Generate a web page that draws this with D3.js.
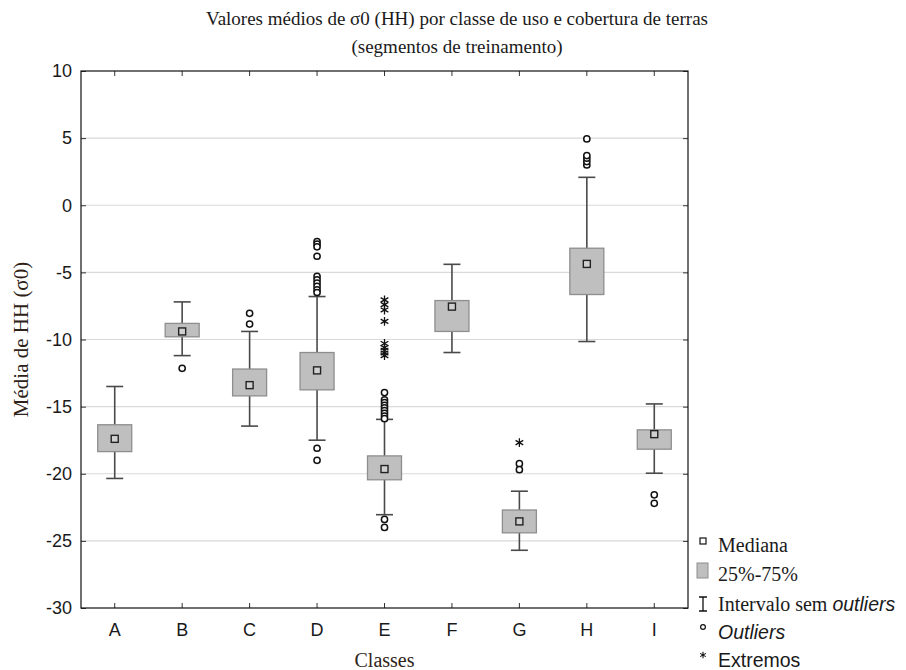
<!DOCTYPE html>
<html>
<head>
<meta charset="utf-8">
<script src="https://cdn.jsdelivr.net/npm/d3@7"></script>
<style>
  html, body { margin: 0; padding: 0; background: #fff; }
  svg { display: block; }
</style>
</head>
<body>
<script>
// ---- Data ----
const categories = ["A", "B", "C", "D", "E", "F", "G", "H", "I"];
const medians    = [-17.4, -9.4, -13.4, -12.3, -19.65, -7.55, -23.55, -4.37, -17.05];
const q1s        = [-18.35, -9.8, -14.2, -13.75, -20.45, -9.4, -24.4, -6.65, -18.17];
const q3s        = [-16.35, -8.8, -12.2, -10.97, -18.67, -7.1, -22.7, -3.2, -16.73];
const whiskLow   = [-20.35, -11.2, -16.45, -17.5, -23.05, -10.97, -25.7, -10.15, -19.96];
const whiskHigh  = [-13.5, -7.2, -9.4, -6.8, -15.95, -4.4, -21.3, 2.08, -14.8];
const outliers   = [
  [],
  [-12.15],
  [-8.05, -8.85],
  [-2.7, -2.9, -3.1, -3.8, -5.3, -5.55, -5.8, -6.05, -6.3, -6.5, -18.1, -19.0],
  [-13.95, -14.5, -14.7, -14.9, -15.1, -15.3, -15.5, -15.7, -15.9, -23.4, -24.0],
  [],
  [-19.25, -19.7],
  [4.94, 3.0, 3.25, 3.5, 3.7],
  [-21.57, -22.2]
];
const extremes   = [
  [], [], [], [],
  [-7.05, -7.4, -7.8, -8.65, -10.3, -10.6, -10.8, -11.0, -11.2],
  [],
  [-17.68],
  [], []
];
const yTicks = [10, 5, 0, -5, -10, -15, -20, -25, -30];
const titleLines = ["Valores médios de σ0 (HH) por classe de uso e cobertura de terras", "(segmentos de treinamento)"];
const yLabel = "Média de HH (σ0)";
const xLabel = "Classes";

// ---- Layout ----
const W = 906, H = 670;
const m = { left: 81, right: 688, top: 71, bottom: 608 };

const svg = d3.select("body").append("svg").attr("width", W).attr("height", H);

const x = d3.scaleBand().domain(categories).range([m.left, m.right]).paddingInner(0).paddingOuter(0);
const y = d3.scaleLinear().domain([-30, 10]).range([m.bottom, m.top]);

const boxW = 34, capW = 17;
const textCol = "#1a1a1a";

// grid
svg.append("g").selectAll("line").data(yTicks.filter(t => t > -30 && t < 10)).join("line")
  .attr("x1", m.left).attr("x2", m.right)
  .attr("y1", d => y(d)).attr("y2", d => y(d))
  .attr("stroke", "#d9d9d9").attr("stroke-width", 1.2);

// axes (ticks inward)
const axL = d3.axisLeft(y).tickValues(yTicks).tickSizeInner(-5).tickSizeOuter(0).tickPadding(9).tickFormat(d => String(d));
const gL = svg.append("g").attr("transform", `translate(${m.left},0)`).call(axL);
gL.select(".domain").remove();
gL.selectAll("text").attr("font-family", "Liberation Sans, Arial, sans-serif").attr("font-size", 18).attr("fill", textCol).attr("x", -9);
gL.selectAll("line").attr("stroke", "#333");

const axR = d3.axisRight(y).tickValues(yTicks).tickSizeInner(-5).tickSizeOuter(0).tickFormat("");
const gR = svg.append("g").attr("transform", `translate(${m.right},0)`).call(axR);
gR.select(".domain").remove();
gR.selectAll("line").attr("stroke", "#333");

const axB = d3.axisBottom(x).tickSizeInner(-5).tickSizeOuter(0).tickPadding(14);
const gB = svg.append("g").attr("transform", `translate(0,${m.bottom})`).call(axB);
gB.select(".domain").remove();
gB.selectAll("text").attr("font-family", "Liberation Sans, Arial, sans-serif").attr("font-size", 18).attr("fill", textCol).attr("y", 15);
gB.selectAll("line").attr("stroke", "#333");

const axT = d3.axisTop(x).tickSizeInner(-5).tickSizeOuter(0).tickFormat("");
const gT = svg.append("g").attr("transform", `translate(0,${m.top})`).call(axT);
gT.select(".domain").remove();
gT.selectAll("line").attr("stroke", "#333");

// frame
svg.append("rect").attr("x", m.left).attr("y", m.top)
  .attr("width", m.right - m.left).attr("height", m.bottom - m.top)
  .attr("fill", "none").attr("stroke", "#111").attr("stroke-width", 1.2);

// boxes
const rows = categories.map((c, i) => ({
  c, med: medians[i], q1: q1s[i], q3: q3s[i], lo: whiskLow[i], hi: whiskHigh[i],
  out: outliers[i], ext: extremes[i]
}));
const cx = d => x(d.c) + x.bandwidth() / 2;
const g = svg.append("g");

const wc = "#4a4a4a";
g.selectAll(".wh").data(rows).join("line").attr("class", "wh")
  .attr("x1", cx).attr("x2", cx).attr("y1", d => y(d.hi)).attr("y2", d => y(d.lo))
  .attr("stroke", wc).attr("stroke-width", 1.6);
g.selectAll(".capH").data(rows).join("line").attr("class", "capH")
  .attr("x1", d => cx(d) - capW / 2).attr("x2", d => cx(d) + capW / 2)
  .attr("y1", d => y(d.hi)).attr("y2", d => y(d.hi))
  .attr("stroke", wc).attr("stroke-width", 1.6);
g.selectAll(".capL").data(rows).join("line").attr("class", "capL")
  .attr("x1", d => cx(d) - capW / 2).attr("x2", d => cx(d) + capW / 2)
  .attr("y1", d => y(d.lo)).attr("y2", d => y(d.lo))
  .attr("stroke", wc).attr("stroke-width", 1.6);
g.selectAll(".box").data(rows).join("rect").attr("class", "box")
  .attr("x", d => cx(d) - boxW / 2).attr("width", boxW)
  .attr("y", d => y(d.q3)).attr("height", d => y(d.q1) - y(d.q3))
  .attr("fill", "#bfbfbf").attr("stroke", "#8e8e8e").attr("stroke-width", 1.3);
g.selectAll(".med").data(rows).join("rect").attr("class", "med")
  .attr("x", d => cx(d) - 3.5).attr("y", d => y(d.med) - 3.5)
  .attr("width", 7).attr("height", 7)
  .attr("fill", "#d0d0d0").attr("stroke", "#222").attr("stroke-width", 1.4);

// outliers
const outPts = rows.flatMap(d => d.out.map(v => ({ c: d.c, v })));
g.selectAll(".out").data(outPts).join("circle").attr("class", "out")
  .attr("cx", d => x(d.c) + x.bandwidth() / 2).attr("cy", d => y(d.v)).attr("r", 3.1)
  .attr("fill", "#fff").attr("stroke", "#111").attr("stroke-width", 1.5);

// extremes
const star = d3.symbol().type(d3.symbolAsterisk).size(55);
const extPts = rows.flatMap(d => d.ext.map(v => ({ c: d.c, v })));
g.selectAll(".ext").data(extPts).join("path").attr("class", "ext")
  .attr("transform", d => `translate(${x(d.c) + x.bandwidth() / 2},${y(d.v)})`)
  .attr("d", star).attr("fill", "none").attr("stroke", "#111").attr("stroke-width", 1.3);

// title
const serif = "Liberation Serif, Times New Roman, serif";
svg.append("text").attr("x", 457).attr("y", 25).attr("text-anchor", "middle")
  .attr("font-family", serif).attr("font-size", 19).attr("fill", textCol).text(titleLines[0]);
svg.append("text").attr("x", 457).attr("y", 53).attr("text-anchor", "middle")
  .attr("font-family", serif).attr("font-size", 19).attr("fill", textCol).text(titleLines[1]);

// axis labels
svg.append("text").attr("transform", `translate(28,${(m.top + m.bottom) / 2}) rotate(-90)`)
  .attr("text-anchor", "middle").attr("font-family", serif).attr("font-size", 21)
  .attr("fill", "#2e2218").text(yLabel);
svg.append("text").attr("x", (m.left + m.right) / 2).attr("y", 667).attr("text-anchor", "middle")
  .attr("font-family", serif).attr("font-size", 20).attr("fill", "#2e2218").text(xLabel);

// legend
const lg = svg.append("g");
const lx = 703, tx = 718;
const sans = "Liberation Sans, Arial, sans-serif";
const fs = 20, fsS = 19.5;
// Mediana
lg.append("rect").attr("x", lx - 3).attr("y", 538).attr("width", 6).attr("height", 6)
  .attr("fill", "#fff").attr("stroke", "#111").attr("stroke-width", 1.2);
lg.append("text").attr("x", tx).attr("y", 552).attr("font-family", serif).attr("font-size", fs).attr("fill", textCol).text("Mediana");
// 25%-75%
lg.append("rect").attr("x", lx - 6).attr("y", 563).attr("width", 11).attr("height", 15)
  .attr("fill", "#bfbfbf").attr("stroke", "#8e8e8e").attr("stroke-width", 1);
lg.append("text").attr("x", tx).attr("y", 581).attr("font-family", serif).attr("font-size", fs).attr("fill", textCol).text("25%-75%");
// Intervalo
lg.append("path").attr("d", `M${lx - 4},597 H${lx + 4} M${lx},597 V611 M${lx - 4},611 H${lx + 4}`)
  .attr("stroke", "#111").attr("stroke-width", 1.3).attr("fill", "none");
const t3 = lg.append("text").attr("x", tx).attr("y", 611).attr("font-size", fs).attr("fill", textCol);
t3.append("tspan").attr("font-family", serif).text("Intervalo sem ");
t3.append("tspan").attr("font-family", sans).attr("font-style", "italic").attr("font-size", fsS).text("outliers");
// Outliers
lg.append("circle").attr("cx", lx).attr("cy", 627).attr("r", 2.4)
  .attr("fill", "#fff").attr("stroke", "#111").attr("stroke-width", 1.2);
lg.append("text").attr("x", tx).attr("y", 639).attr("font-family", sans).attr("font-style", "italic")
  .attr("font-size", fsS).attr("fill", textCol).text("Outliers");
// Extremos
lg.append("path").attr("transform", `translate(${lx},655)`).attr("d", d3.symbol().type(d3.symbolAsterisk).size(30))
  .attr("fill", "none").attr("stroke", "#111").attr("stroke-width", 1.1);
lg.append("text").attr("x", tx).attr("y", 667).attr("font-family", sans)
  .attr("font-size", fsS).attr("fill", textCol).text("Extremos");
</script>
</body>
</html>
